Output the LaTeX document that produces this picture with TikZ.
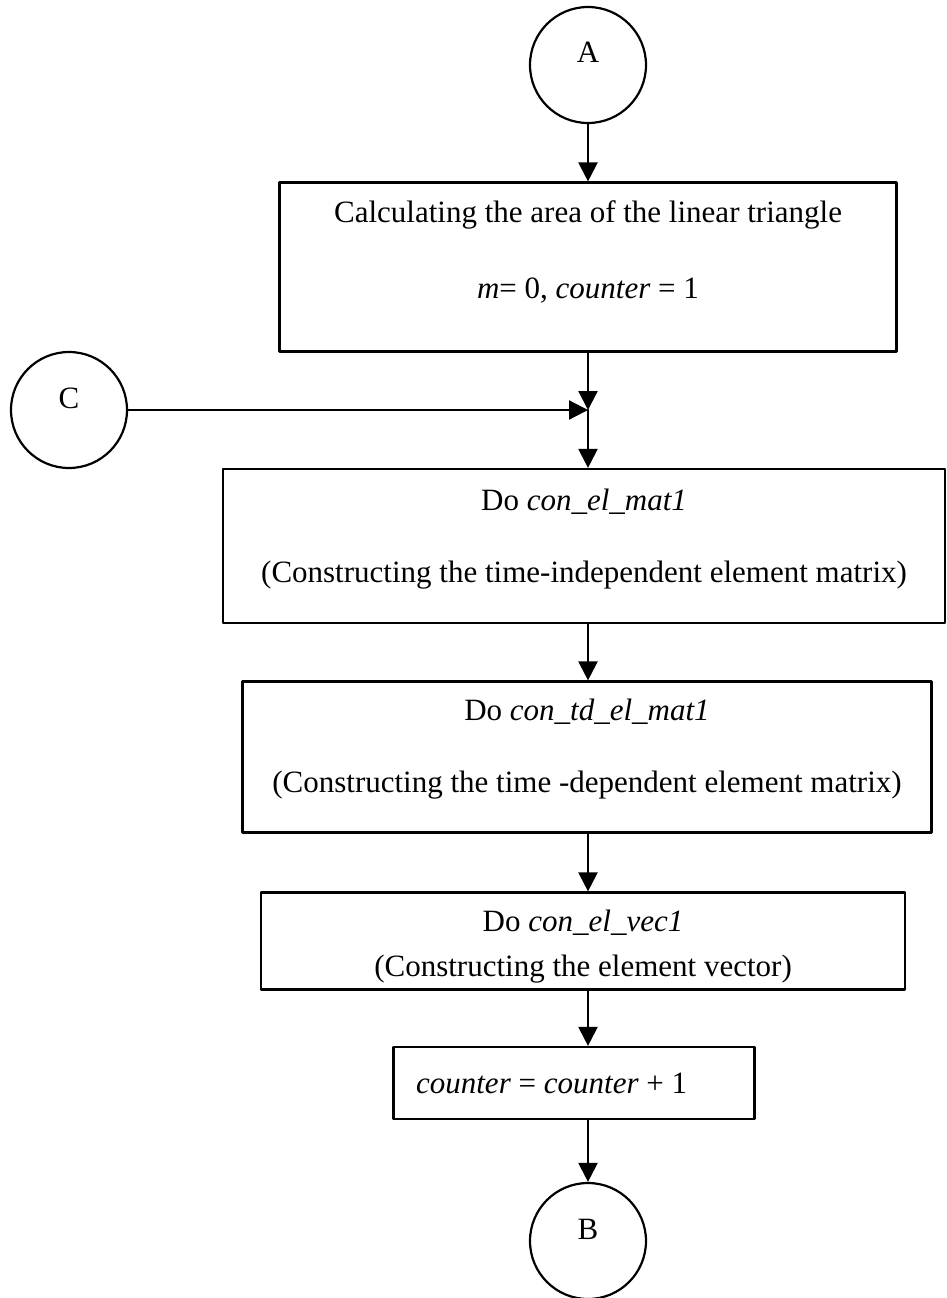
\documentclass[tikz,border=0pt]{standalone}
\usepackage{fontspec}
\setmainfont{Liberation Serif}
\usetikzlibrary{arrows.meta}
\begin{document}
\begin{tikzpicture}[line cap=round,line join=round,>={Triangle[length=19pt,width=19pt]},x=1pt,y=-1pt,line width=2.2pt,
	font=\fontsize{31pt}{36pt}\selectfont,
	conn/.style={circle,draw,minimum size=116pt,inner sep=0pt,text height=20pt,text depth=24pt},
	blk/.style={rectangle,draw,inner sep=0pt},
	txt/.style={align=center,inner sep=0pt}]
\useasboundingbox (0,0) rectangle (946,1298);
\node[conn] (A) at (588,65) {A};
\node[blk,minimum width=617pt,minimum height=169pt] (calc) at (588,267) {};
\node[txt] (calctxt) at (588,252) {Calculating the area of the linear triangle\\[40pt]\textit{m}= 0, \textit{counter} = 1};
\node[conn] (C) at (69,410) {C};
\coordinate (join) at (588,410);
\node[blk,minimum width=722pt,minimum height=154pt] (mat) at (584,546) {};
\node[txt] (mattxt) at (584,539) {Do \textit{con\_el\_mat1}\\[36pt](Constructing the time-independent element matrix)};
\node[blk,minimum width=689pt,minimum height=151pt] (tdmat) at (587,757) {};
\node[txt] (tdmattxt) at (587,749) {Do \textit{con\_td\_el\_mat1}\\[36pt](Constructing the time -dependent element matrix)};
\node[blk,minimum width=644pt,minimum height=97pt] (vec) at (583,941) {};
\node[txt] (vectxt) at (583,947) {Do \textit{con\_el\_vec1}\\[9pt](Constructing the element vector)};
\node[blk,minimum width=361pt,minimum height=72pt] (count) at (574,1083) {};
\node[txt,anchor=west] (counttxt) at (415,1083) {\textit{counter} = \textit{counter} + 1};
\node[conn] (B) at (588,1241) {B};
\draw[->] (A) -- (calc);
\draw[->] (calc.south -| A) -- (join);
\draw[->] (C) -- (join);
\draw[->] (join) -- (join |- mat.north);
\draw[->] (mat.south -| A) -- (tdmat.north -| A);
\draw[->] (tdmat.south -| A) -- (vec.north -| A);
\draw[->] (vec.south -| A) -- (count.north -| A);
\draw[->] (count.south -| A) -- (B);
\end{tikzpicture}
\end{document}
